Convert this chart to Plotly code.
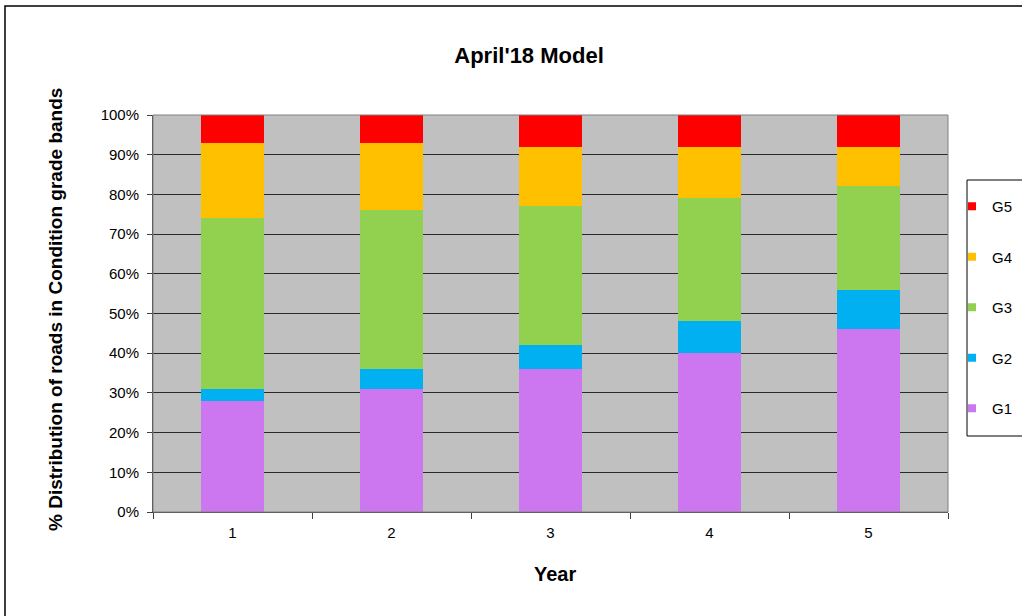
import plotly.graph_objects as go

years = ["1", "2", "3", "4", "5"]
series_names = ["G1", "G2", "G3", "G4", "G5"]
g1 = [28, 31, 36, 40, 46]
g2 = [3, 5, 6, 8, 10]
g3 = [43, 40, 35, 31, 26]
g4 = [19, 17, 15, 13, 10]
g5 = [7, 7, 8, 8, 8]
colors = ["#CC77F0", "#00B0F0", "#92D050", "#FFC000", "#FF0000"]
y_ticks = [0, 10, 20, 30, 40, 50, 60, 70, 80, 90, 100]
y_tick_labels = [f"{v}%" for v in y_ticks]

FONT = "Arial, Liberation Sans, sans-serif"

fig = go.Figure()
n = len(series_names)
for i, (name, vals, col) in enumerate(zip(series_names, [g1, g2, g3, g4, g5], colors)):
    fig.add_trace(go.Bar(x=years, y=vals, name=name, marker=dict(color=col, line=dict(width=0)),
                         legendgroup=name, showlegend=False))
    # small square legend key (Excel-style)
    fig.add_trace(go.Scatter(x=[None], y=[None], mode="markers", name=name,
                             marker=dict(symbol="square", size=8, color=col),
                             legendgroup=name, legendrank=n - i, hoverinfo="skip"))

fig.update_layout(
    barmode="stack",
    bargap=0.6,
    width=1022, height=616,
    autosize=False,
    margin=dict(l=153, r=74, t=115, b=104, autoexpand=False),
    paper_bgcolor="white",
    plot_bgcolor="#C0C0C0",
    font=dict(family=FONT, size=15, color="black"),
    title=dict(text="<b>April'18 Model</b>", font=dict(size=22, family=FONT, color="black"),
               x=0.473, xref="paper", xanchor="center", y=1 - 55 / 616, yanchor="middle"),
    legend=dict(x=(952 - 153) / 795, xanchor="left", y=(512 - 190) / 397, yanchor="top",
                traceorder="grouped", tracegroupgap=28, itemsizing="trace",
                borderwidth=0, bgcolor="rgba(0,0,0,0)",
                font=dict(size=15, family=FONT)),
    showlegend=True,
)
fig.update_xaxes(
    type="category", showline=True, linecolor="#404040", linewidth=1,
    ticks="outside", tickson="boundaries", ticklen=6, tickcolor="#404040",
    showgrid=False, tickfont=dict(size=15), ticklabelstandoff=7,
)
fig.update_yaxes(
    range=[0, 100], tickvals=y_ticks, ticktext=y_tick_labels,
    showline=True, linecolor="#404040", linewidth=1,
    ticks="outside", ticklen=5, tickcolor="#404040",
    showgrid=True, gridcolor="#2a2a2a", gridwidth=1,
    zeroline=False, tickfont=dict(size=15), ticklabelstandoff=5,
)
fig.add_annotation(text="<b>% Distribution of roads in Condition grade bands</b>",
                   xref="paper", yref="paper", x=(55 - 153) / 795, y=(512 - 310) / 397,
                   textangle=-90, showarrow=False, xanchor="center", yanchor="middle",
                   font=dict(size=19, family=FONT, color="black"))
fig.add_annotation(text="<b>Year</b>", xref="paper", yref="paper",
                   x=(555 - 153) / 795, y=(512 - 574) / 397, showarrow=False,
                   xanchor="center", yanchor="middle",
                   font=dict(size=20, family=FONT, color="black"))
# plot area border (top/right grey)
fig.add_shape(type="rect", xref="paper", yref="paper", x0=0, x1=1, y0=0, y1=1,
              line=dict(color="#808080", width=1), fillcolor="rgba(0,0,0,0)", layer="above")
# legend box
fig.add_shape(type="rect", xref="paper", yref="paper", x0=(967 - 153) / 795, x1=1.2,
              y0=(512 - 436) / 397, y1=(512 - 180) / 397,
              line=dict(color="black", width=1), fillcolor="white", layer="below")
# outer chart border
fig.add_shape(type="rect", xref="paper", yref="paper", x0=(5 - 153) / 795, x1=1.2,
              y0=-0.4, y1=(512 - 6) / 397, line=dict(color="black", width=1.5),
              fillcolor="rgba(0,0,0,0)")

post = ("document.body.style.margin='0';document.body.style.overflow='hidden';"
        "var gd=document.getElementById('{plot_id}');"
        "Plotly.relayout(gd,{width:1022,height:616});")
fig.write_html("out.html", post_script=post,
               config={"responsive": False, "displayModeBar": False})
